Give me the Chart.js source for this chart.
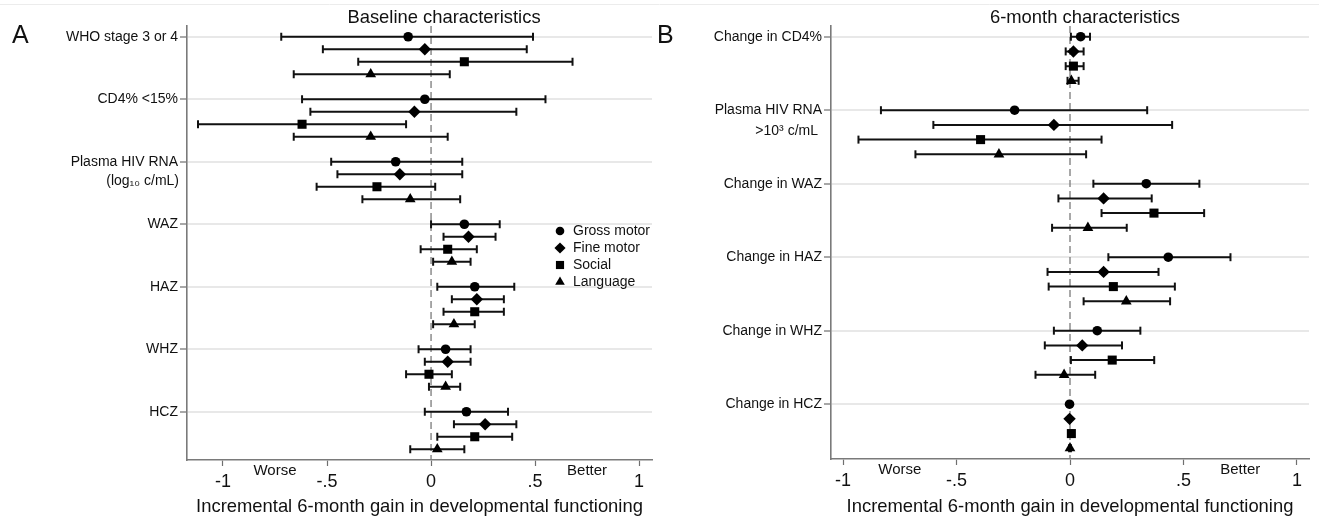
<!DOCTYPE html>
<html>
<head>
<meta charset="utf-8">
<script src="https://cdn.jsdelivr.net/npm/chart.js@4.4.1/dist/chart.umd.min.js"></script>
<style>
html, body { margin: 0; padding: 0; background: #fff; }
#wrap { position: relative; width: 1319px; height: 519px; overflow: hidden; background: #fff; }
#wrap canvas { position: absolute; left: 0; top: 0; }
</style>
</head>
<body>
<div id="wrap">
  <canvas id="cA" width="1319" height="519"></canvas>
  <canvas id="cB" width="1319" height="519"></canvas>
</div>
<script>
// ---------------- DATA ----------------
const seriesNames = ['Gross motor', 'Fine motor', 'Social', 'Language'];

const xTickValues = [-1, -0.5, 0, 0.5, 1];
const xTickLabels = ['-1', '-.5', '0', '.5', '1'];

// Panel A: Baseline characteristics
const baselineCategories = ['WHO stage 3 or 4', 'CD4% <15%', 'Plasma HIV RNA', 'WAZ', 'HAZ', 'WHZ', 'HCZ'];
const baselineGrossEst  = [-0.11, -0.03, -0.17, 0.16, 0.21, 0.07, 0.17];
const baselineGrossLo   = [-0.72, -0.62, -0.48, 0.00, 0.03, -0.06, -0.03];
const baselineGrossHi   = [0.49, 0.55, 0.15, 0.33, 0.40, 0.19, 0.37];
const baselineFineEst   = [-0.03, -0.08, -0.15, 0.18, 0.22, 0.08, 0.26];
const baselineFineLo    = [-0.52, -0.58, -0.45, 0.06, 0.10, -0.03, 0.11];
const baselineFineHi    = [0.46, 0.41, 0.15, 0.31, 0.35, 0.19, 0.41];
const baselineSocialEst = [0.16, -0.62, -0.26, 0.08, 0.21, -0.01, 0.21];
const baselineSocialLo  = [-0.35, -1.12, -0.55, -0.05, 0.06, -0.12, 0.03];
const baselineSocialHi  = [0.68, -0.12, 0.02, 0.22, 0.35, 0.10, 0.39];
const baselineLangEst   = [-0.29, -0.29, -0.10, 0.10, 0.11, 0.07, 0.03];
const baselineLangLo    = [-0.66, -0.66, -0.33, 0.01, 0.01, -0.01, -0.10];
const baselineLangHi    = [0.09, 0.08, 0.14, 0.19, 0.21, 0.14, 0.16];

// Panel B: 6-month characteristics
const sixMonthCategories = ['Change in CD4%', 'Plasma HIV RNA', 'Change in WAZ', 'Change in HAZ', 'Change in WHZ', 'Change in HCZ'];
const sixGrossEst  = [0.047, -0.244, 0.336, 0.433, 0.120, -0.002];
const sixGrossLo   = [0.004, -0.833, 0.103, 0.169, -0.071, -0.006];
const sixGrossHi   = [0.088, 0.340, 0.570, 0.707, 0.310, 0.002];
const sixFineEst   = [0.015, -0.071, 0.148, 0.148, 0.054, -0.002];
const sixFineLo    = [-0.019, -0.602, -0.051, -0.099, -0.111, -0.006];
const sixFineHi    = [0.060, 0.450, 0.360, 0.390, 0.229, 0.002];
const sixSocialEst = [0.015, -0.394, 0.370, 0.191, 0.186, 0.006];
const sixSocialLo  = [-0.019, -0.932, 0.139, -0.094, 0.004, 0.002];
const sixSocialHi  = [0.060, 0.139, 0.591, 0.462, 0.371, 0.010];
const sixLangEst   = [0.006, -0.313, 0.079, 0.248, -0.026, 0.000];
const sixLangLo    = [-0.011, -0.681, -0.079, 0.060, -0.152, -0.004];
const sixLangHi    = [0.038, 0.071, 0.250, 0.441, 0.111, 0.004];

// ---------------- STYLE / LAYOUT ----------------
const FONT = "'Liberation Sans', Arial, Helvetica, sans-serif";
const INK = '#111';
const pointStyles = ['circle', 'rectRot', 'rect', 'triangle'];
const pointRadii  = [4.8, 6.2, 6.4, 6.2];
const ROWS_PER_GROUP = 5;

function buildPanel(canvasId, p) {
  const datasets = [];
  // reference line at zero
  datasets.push({
    label: 'zero',
    data: [{ x: 0, y: p.yMin }, { x: 0, y: p.yMax }],
    showLine: true,
    borderColor: '#7a7a7a',
    borderWidth: 1.3,
    borderDash: [7, 4],
    pointRadius: 0,
    order: 10
  });
  // confidence intervals with caps
  p.series.forEach((s, si) => {
    const pts = [];
    s.est.forEach((_, gi) => {
      const yPos = gi * ROWS_PER_GROUP + si;
      pts.push({ x: s.lo[gi], y: yPos });
      pts.push({ x: s.hi[gi], y: yPos });
      pts.push({ x: null, y: null });
    });
    datasets.push({
      label: s.name + ' CI',
      data: pts,
      showLine: true,
      spanGaps: false,
      borderColor: INK,
      borderWidth: 2,
      pointStyle: 'line',
      rotation: 90,
      pointRadius: 4,
      pointBorderWidth: 2,
      pointBorderColor: INK,
      order: 5
    });
  });
  // point estimates
  p.series.forEach((s, si) => {
    datasets.push({
      label: s.name,
      data: s.est.map((v, gi) => ({ x: v, y: gi * ROWS_PER_GROUP + si })),
      showLine: false,
      pointStyle: pointStyles[si],
      pointRadius: pointRadii[si],
      backgroundColor: '#000',
      borderColor: '#000',
      pointBorderWidth: 0,
      order: 1
    });
  });

  const extras = {
    id: 'extras' + canvasId,
    afterDraw(chart) {
      const ctx = chart.ctx;
      const xs = chart.scales.x, ys = chart.scales.y;
      ctx.save();
      if (p.topLine) {
        ctx.strokeStyle = '#ececec';
        ctx.lineWidth = 1;
        ctx.beginPath(); ctx.moveTo(0, 4.5); ctx.lineTo(1319, 4.5); ctx.stroke();
      }
      ctx.fillStyle = INK;
      // panel letter
      ctx.font = '25px ' + FONT;
      ctx.textAlign = 'left'; ctx.textBaseline = 'middle';
      ctx.fillText(p.letter, p.letterX, 36);
      // title
      ctx.font = '18.4px ' + FONT;
      ctx.textAlign = 'center';
      ctx.fillText(p.title, p.titleX, 18);
      // second line of a category label
      ctx.font = '14px ' + FONT;
      ctx.textAlign = 'right';
      ctx.fillText(p.subLabel, p.subLabelRight, ys.getPixelForValue(p.subLabelGroup * ROWS_PER_GROUP) + p.subLabelDy);
      // Worse / Better
      ctx.font = '15px ' + FONT;
      ctx.textAlign = 'center';
      ctx.fillText('Worse', xs.getPixelForValue(-0.75), xs.top + 11);
      ctx.fillText('Better', xs.getPixelForValue(0.75), xs.top + 11);
      // legend
      if (p.legend) {
        ctx.font = '14px ' + FONT;
        ctx.textAlign = 'left';
        p.series.forEach((s, si) => {
          const ly = p.legend.y + si * p.legend.dy;
          ctx.fillStyle = '#000';
          Chart.helpers.drawPoint(ctx, { pointStyle: pointStyles[si], radius: pointRadii[si] * 0.9, rotation: 0, borderWidth: 0 }, p.legend.x, ly);
          ctx.fillStyle = INK;
          ctx.fillText(s.name, p.legend.x + 13, ly);
        });
      }
      ctx.restore();
    }
  };

  return new Chart(document.getElementById(canvasId), {
    type: 'scatter',
    data: { datasets },
    options: {
      responsive: false,
      devicePixelRatio: 1,
      animation: false,
      events: [],
      layout: { padding: { left: 0, top: p.area.top, right: 1319 - p.area.right, bottom: 0 } },
      plugins: { legend: { display: false }, tooltip: { enabled: false }, title: { display: false } },
      scales: {
        x: {
          type: 'linear',
          min: p.xMin, max: p.xMax,
          afterFit(scale) { scale.height = 519 - p.area.bottom; },
          afterBuildTicks(scale) { scale.ticks = xTickValues.map(v => ({ value: v })); },
          ticks: {
            autoSkip: false, maxRotation: 0,
            color: INK, font: { family: FONT, size: 18 }, padding: 5,
            callback: (v, i) => xTickLabels[i]
          },
          grid: { drawOnChartArea: false, drawTicks: true, tickLength: 6, tickColor: '#6f6f6f', tickWidth: 1.2 },
          border: { display: true, color: '#7a7a7a', width: 1.6 },
          title: {
            display: true,
            text: 'Incremental 6-month gain in developmental functioning',
            color: INK, font: { family: FONT, size: 18.4 },
            padding: { top: 0, bottom: 1 }
          }
        },
        y: {
          type: 'linear',
          reverse: true,
          min: p.yMin, max: p.yMax,
          afterFit(scale) { scale.width = p.area.left; },
          afterBuildTicks(scale) { scale.ticks = p.categories.map((c, i) => ({ value: i * ROWS_PER_GROUP })); },
          ticks: {
            autoSkip: false,
            color: INK, font: { family: FONT, size: 14 }, padding: 2,
            callback: (v, i) => p.categories[i]
          },
          grid: { drawOnChartArea: true, color: '#e8e8e8', lineWidth: 2, drawTicks: true, tickLength: 7, tickColor: '#6f6f6f', tickWidth: 1.2 },
          border: { display: true, color: '#7a7a7a', width: 1.6 }
        }
      }
    },
    plugins: [extras]
  });
}

buildPanel('cA', {
  categories: baselineCategories,
  series: [
    { name: seriesNames[0], est: baselineGrossEst, lo: baselineGrossLo, hi: baselineGrossHi },
    { name: seriesNames[1], est: baselineFineEst, lo: baselineFineLo, hi: baselineFineHi },
    { name: seriesNames[2], est: baselineSocialEst, lo: baselineSocialLo, hi: baselineSocialHi },
    { name: seriesNames[3], est: baselineLangEst, lo: baselineLangLo, hi: baselineLangHi }
  ],
  area: { left: 187, right: 652, top: 26, bottom: 460 },
  xMin: -1.173, xMax: 1.062,
  yMin: -0.86, yMax: 33.86,
  letter: 'A', letterX: 12,
  title: 'Baseline characteristics', titleX: 444,
  subLabel: '(log\u2081\u2080 c/mL)', subLabelGroup: 2, subLabelRight: 179, subLabelDy: 19,
  legend: { x: 560, y: 231, dy: 17 },
  topLine: true
});

buildPanel('cB', {
  categories: sixMonthCategories,
  series: [
    { name: seriesNames[0], est: sixGrossEst, lo: sixGrossLo, hi: sixGrossHi },
    { name: seriesNames[1], est: sixFineEst, lo: sixFineLo, hi: sixFineHi },
    { name: seriesNames[2], est: sixSocialEst, lo: sixSocialLo, hi: sixSocialHi },
    { name: seriesNames[3], est: sixLangEst, lo: sixLangLo, hi: sixLangHi }
  ],
  area: { left: 831, right: 1309, top: 26, bottom: 459 },
  xMin: -1.053, xMax: 1.053,
  yMin: -0.73, yMax: 28.73,
  letter: 'B', letterX: 657,
  title: '6-month characteristics', titleX: 1085,
  subLabel: '>10\u00b3 c/mL', subLabelGroup: 1, subLabelRight: 818, subLabelDy: 21,
  legend: null,
  topLine: false
});
</script>
</body>
</html>
